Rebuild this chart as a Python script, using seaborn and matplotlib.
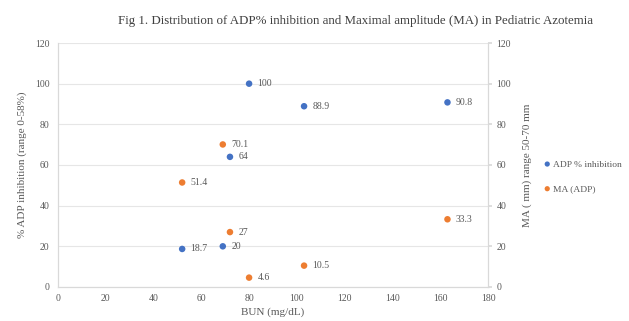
import matplotlib
matplotlib.use("Agg")
import matplotlib.pyplot as plt
import seaborn as sns
import pandas as pd

bun = [80, 103, 163, 72, 52, 69]
adp_inhibition = [100, 88.9, 90.8, 64, 18.7, 20]
bun_ma = [80, 103, 163, 72, 52, 69]
ma_adp = [4.6, 10.5, 33.3, 27, 51.4, 70.1]

title = "Fig 1. Distribution of ADP% inhibition and Maximal amplitude (MA) in Pediatric Azotemia"
xlabel = "BUN (mg/dL)"
ylabel_left = "% ADP inhibition (range 0-58%)"
ylabel_right = "MA ( mm) range 50-70 mm"
x_ticks = [0, 20, 40, 60, 80, 100, 120, 140, 160, 180]
y_ticks = [0, 20, 40, 60, 80, 100, 120]

BLUE = "#4472C4"
ORANGE = "#ED7D31"
TXT = "#595959"

sns.set_theme(style="white")
plt.rcParams['font.family'] = ['Liberation Serif', 'DejaVu Serif']

df1 = pd.DataFrame({"BUN": bun, "val": adp_inhibition})
df2 = pd.DataFrame({"BUN": bun_ma, "val": ma_adp})

fig = plt.figure(figsize=(6.29, 3.21), dpi=100)
ax = fig.add_axes([0.092, 0.106, 0.684, 0.76])
ax2 = ax.twinx()

sns.scatterplot(data=df1, x="BUN", y="val", ax=ax, color=BLUE, s=22,
                edgecolor="none", label="ADP % inhibition", legend=False)
sns.scatterplot(data=df2, x="BUN", y="val", ax=ax2, color=ORANGE, s=22,
                edgecolor="none", label="MA (ADP)", legend=False)

for x, y in zip(bun, adp_inhibition):
    ax.annotate(f"{y:g}", (x, y), xytext=(6, 0), textcoords="offset points",
                va="center", ha="left", fontsize=7, color=TXT)
for x, y in zip(bun_ma, ma_adp):
    ax2.annotate(f"{y:g}", (x, y), xytext=(6, 0), textcoords="offset points",
                 va="center", ha="left", fontsize=7, color=TXT)

for a in (ax, ax2):
    a.set_ylim(0, 120)
    a.set_yticks(y_ticks)
    a.tick_params(axis="y", labelsize=7, colors=TXT, length=0, pad=6)
ax.set_xlim(0, 180)
ax.set_xticks(x_ticks)
ax.tick_params(axis="x", labelsize=7, colors=TXT, length=0, pad=5)
ax2.tick_params(axis="y", length=3, color="#d9d9d9", pad=3)

ax.yaxis.grid(True, color="#e6e6e6", linewidth=0.8)
ax.set_axisbelow(True)
for a in (ax, ax2):
    a.spines["top"].set_visible(False)
    for side in ("left", "bottom", "right"):
        a.spines[side].set_color("#d9d9d9")
        a.spines[side].set_linewidth(0.8)

ax.set_xlabel(xlabel, fontsize=8, color=TXT, labelpad=3)
ax.set_ylabel(ylabel_left, fontsize=8, color=TXT, labelpad=6)
ax2.set_ylabel(ylabel_right, fontsize=8, color=TXT, labelpad=8)

fig.text(0.565, 0.935, title, ha="center", va="center", fontsize=9.3, color="#404040")

h1, l1 = ax.get_legend_handles_labels()
h2, l2 = ax2.get_legend_handles_labels()
fig.legend(h1 + h2, l1 + l2, loc="center left", bbox_to_anchor=(0.855, 0.45),
           frameon=False, fontsize=6.8, labelcolor=TXT, handletextpad=-0.4,
           markerscale=0.8, labelspacing=1.7, borderaxespad=0, borderpad=0)

fig.savefig("out.png", dpi=100)
